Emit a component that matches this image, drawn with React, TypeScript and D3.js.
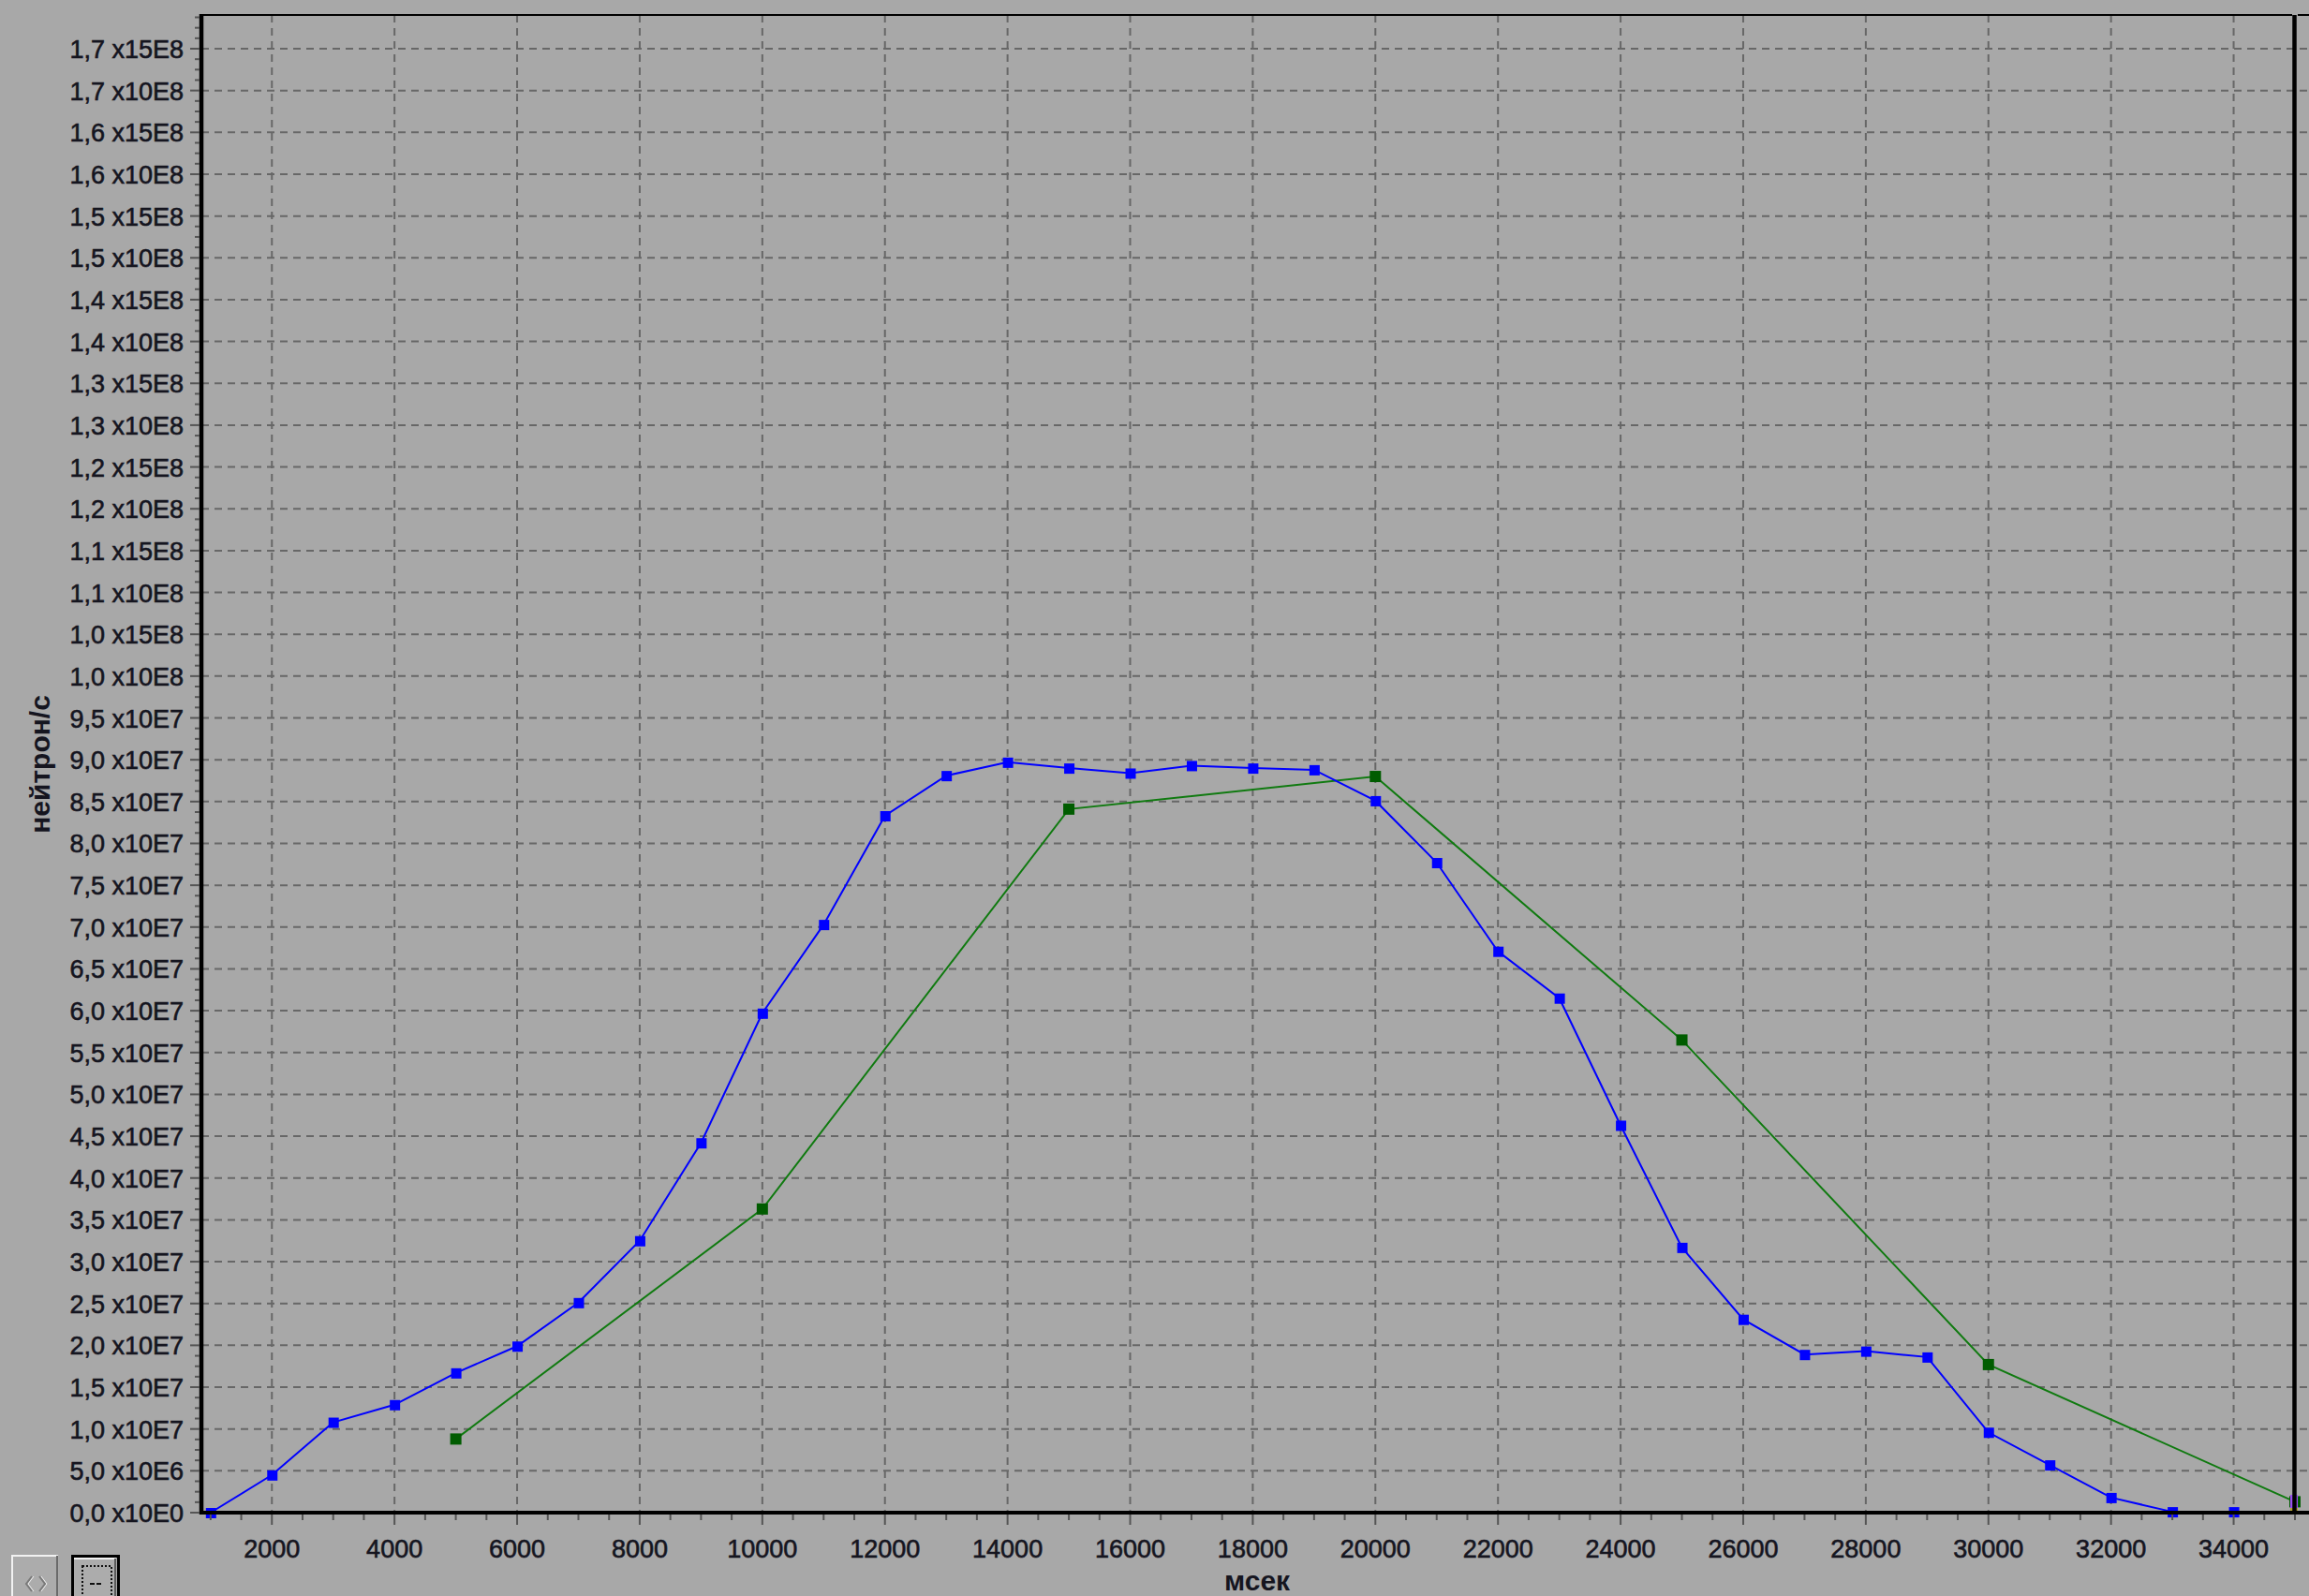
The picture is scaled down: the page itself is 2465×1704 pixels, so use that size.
import React from "react";
import * as d3 from "d3";

const blueX = [1000,2000,3000,4000,5000,6000,7000,8000,9000,10000,11000,12000,13000,14000,15000,16000,17000,18000,19000,20000,21000,22000,23000,24000,25000,26000,27000,28000,29000,30000,31000,32000,33000,34000];
const blueY = [0,4.5e6,1.08e7,1.29e7,1.67e7,1.99e7,2.51e7,3.25e7,4.42e7,5.97e7,7.03e7,8.33e7,8.81e7,8.97e7,8.9e7,8.84e7,8.93e7,8.9e7,8.88e7,8.51e7,7.77e7,6.71e7,6.15e7,4.63e7,3.17e7,2.31e7,1.89e7,1.93e7,1.86e7,9.6e6,5.7e6,1.8e6,1e5,1e5];

const greenX = [5000,10000,15000,20000,25000,30000,35000];
const greenY = [8.8e6,3.63e7,8.41e7,8.8e7,5.65e7,1.77e7,1.3e6];

const xTickValues = [2000,4000,6000,8000,10000,12000,14000,16000,18000,20000,22000,24000,26000,28000,30000,32000,34000];
const xTickLabels = ["2000","4000","6000","8000","10000","12000","14000","16000","18000","20000","22000","24000","26000","28000","30000","32000","34000"];

const yTickLabels = [
  "0,0 x10E0","5,0 x10E6","1,0 x10E7","1,5 x10E7","2,0 x10E7","2,5 x10E7","3,0 x10E7","3,5 x10E7",
  "4,0 x10E7","4,5 x10E7","5,0 x10E7","5,5 x10E7","6,0 x10E7","6,5 x10E7","7,0 x10E7","7,5 x10E7",
  "8,0 x10E7","8,5 x10E7","9,0 x10E7","9,5 x10E7","1,0 x10E8","1,0 x15E8","1,1 x10E8","1,1 x15E8",
  "1,2 x10E8","1,2 x15E8","1,3 x10E8","1,3 x15E8","1,4 x10E8","1,4 x15E8","1,5 x10E8","1,5 x15E8",
  "1,6 x10E8","1,6 x15E8","1,7 x10E8","1,7 x15E8"
];
const yTickValues = [
  0,5e6,1e7,1.5e7,2e7,2.5e7,3e7,3.5e7,4e7,4.5e7,5e7,5.5e7,6e7,6.5e7,7e7,7.5e7,8e7,8.5e7,9e7,9.5e7,
  1e8,1.05e8,1.1e8,1.15e8,1.2e8,1.25e8,1.3e8,1.35e8,1.4e8,1.45e8,1.5e8,1.55e8,1.6e8,1.65e8,1.7e8,1.75e8
];

const yTitle = "нейтрон/с";
const xTitle = "мсек";

export default function App() {
  const W = 2465, H = 1704;
  const left = 215, bottom = 1615, top = 16, right = 2450;
  const x = d3.scaleLinear().domain([850, 35000]).range([left, right]);
  const y = d3.scaleLinear().domain([0, 1.75e8]).range([bottom, 52]);

  const lineGen = d3.line<[number, number]>().x(d => x(d[0])).y(d => y(d[1]));
  const blueLine = lineGen(blueX.map((v, i) => [v, blueY[i]] as [number, number]));
  const greenLine = lineGen(greenX.map((v, i) => [v, greenY[i]] as [number, number]));

  const xMinor = d3.range(1000, 35001, 500);
  const yMinor = d3.range(0, 1.79e8, 1.25e6);

  const font = "'Liberation Sans', Arial, sans-serif";
  const textFill = "#15151f";
  const gridColor = "#676767";

  React.useEffect(() => {
    document.body.style.margin = "0";
    document.body.style.background = "#a8a8a8";
  }, []);

  return (
    <div style={{ position: "absolute", left: 0, top: 0, width: W, height: H, background: "#a8a8a8" }}>
      <svg width={W} height={H} viewBox={`0 0 ${W} ${H}`} style={{ display: "block" }}>
        <rect x={0} y={0} width={W} height={H} fill="#a8a8a8" />
        {/* horizontal grid */}
        {yTickValues.slice(1).map((v, i) => (
          <line key={"hg" + i} x1={left} x2={W} y1={y(v)} y2={y(v)} stroke={gridColor} strokeWidth={2} strokeDasharray="8,6" />
        ))}
        {/* vertical grid */}
        {xTickValues.map((v, i) => (
          <line key={"vg" + i} x1={x(v)} x2={x(v)} y1={top} y2={bottom} stroke={gridColor} strokeWidth={2} strokeDasharray="8,6" />
        ))}
        {/* series lines */}
        <path d={greenLine || ""} fill="none" stroke="#107a10" strokeWidth={2} />
        <path d={blueLine || ""} fill="none" stroke="#0000ff" strokeWidth={2} />
        {greenX.map((v, i) => (
          <rect key={"gm" + i} x={x(v) - 6} y={y(greenY[i]) - 6} width={12} height={12} fill="#005c00" />
        ))}
        {blueX.map((v, i) => (
          <rect key={"bm" + i} x={x(v) - 5} y={y(blueY[i]) - 5} width={11} height={11} fill="#0000ff" />
        ))}
        {/* cursor marker at right */}
        <rect x={2445} y={1596} width={8} height={14} fill="#9a4ef0" />
        <rect x={2445} y={1610} width={8} height={5} fill="#b0a030" />
        {/* axes */}
        <line x1={left - 2} x2={W} y1={top} y2={top} stroke="#000" strokeWidth={2} />
        <line x1={2447} x2={2453} y1={top} y2={top} stroke="#a8a8a8" strokeWidth={3} />
        <line x1={right - 0.5} x2={right - 0.5} y1={top} y2={bottom} stroke="#000" strokeWidth={4.5} />
        <line x1={left} x2={left} y1={top - 1} y2={bottom + 2} stroke="#000" strokeWidth={4.5} />
        <line x1={left - 2} x2={W} y1={bottom} y2={bottom} stroke="#000" strokeWidth={4} />
        {/* x ticks */}
        {xMinor.map((v, i) => {
          const major = v % 2000 === 0;
          return <line key={"xt" + i} x1={x(v)} x2={x(v)} y1={bottom + 2} y2={bottom + (major ? 13 : 8)} stroke="#555" strokeWidth={2} />;
        })}
        {xTickValues.map((v, i) => (
          <text key={"xl" + i} x={x(v)} y={1663} textAnchor="middle" fontFamily={font} fontSize={27} fill={textFill} stroke={textFill} strokeWidth={0.6}>{xTickLabels[i]}</text>
        ))}
        {/* y ticks */}
        {yMinor.map((v, i) => {
          const major = i % 4 === 0;
          return <line key={"yt" + i} x1={left - (major ? 12 : 7)} x2={left - 2} y1={y(v)} y2={y(v)} stroke="#555" strokeWidth={2} />;
        })}
        {yTickValues.map((v, i) => (
          <text key={"yl" + i} x={196} y={y(v) + 10} textAnchor="end" fontFamily={font} fontSize={27} fill={textFill} stroke={textFill} strokeWidth={0.6}>{yTickLabels[i]}</text>
        ))}
        {/* axis titles */}
        <text transform="translate(53,816) rotate(-90)" textAnchor="middle" fontFamily={font} fontWeight="bold" fontSize={30} fill={textFill}>{yTitle}</text>
        <text x={1342} y={1698} textAnchor="middle" fontFamily={font} fontWeight="bold" fontSize={30} fill={textFill}>{xTitle}</text>
        {/* toolbar buttons */}
        <g>
          <rect x={12} y={1660} width={51} height={60} fill="#acacac" />
          <line x1={12} x2={62} y1={1661} y2={1661} stroke="#f2f2f2" strokeWidth={2} />
          <line x1={13} x2={13} y1={1660} y2={1710} stroke="#f2f2f2" strokeWidth={2} />
          <line x1={61} x2={61} y1={1661} y2={1710} stroke="#6a6a6a" strokeWidth={2} />
          <path d="M34,1683 L28,1691 L34,1699 M42,1683 L48,1691 L42,1699" fill="none" stroke="#7a7a7a" strokeWidth={2} />
          <path d="M35,1683 L29,1691 L35,1699 M43,1683 L49,1691 L43,1699" fill="none" stroke="#f0f0f0" strokeWidth={1} transform="translate(1,0)" />
          <rect x={76} y={1660} width={52} height={60} fill="#000" />
          <rect x={79} y={1663} width={46} height={60} fill="#acacac" />
          <line x1={79} x2={124} y1={1664} y2={1664} stroke="#f2f2f2" strokeWidth={2} />
          <line x1={123} x2={123} y1={1664} y2={1710} stroke="#5a5a5a" strokeWidth={2} />
          <rect x={88} y={1672} width={31} height={40} fill="none" stroke="#111" strokeWidth={2} strokeDasharray="2,2" />
          <line x1={96} x2={110} y1={1691} y2={1691} stroke="#111" strokeWidth={2} strokeDasharray="5,2" />
        </g>
      </svg>
    </div>
  );
}
